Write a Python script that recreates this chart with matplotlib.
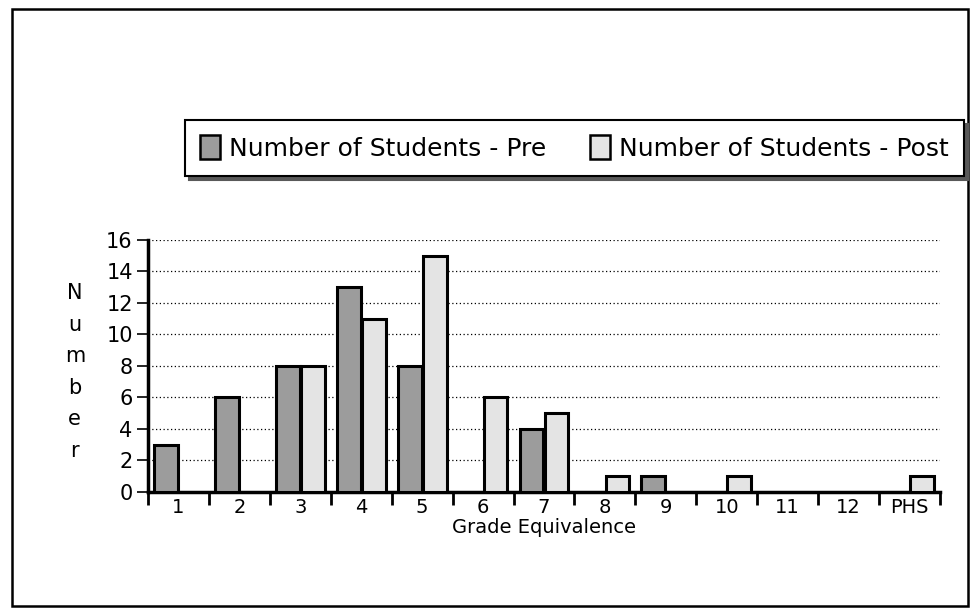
import numpy as np
from matplotlib import pyplot as plt
from matplotlib.patches import Rectangle, Patch

grades = ["1", "2", "3", "4", "5", "6", "7", "8", "9", "10", "11", "12", "PHS"]
pre = [3, 6, 8, 13, 8, 0, 4, 0, 1, 0, 0, 0, 0]
post = [0, 0, 8, 11, 15, 6, 5, 1, 0, 1, 0, 0, 1]
yticks = [0, 2, 4, 6, 8, 10, 12, 14, 16]

pre_col = "#9c9c9c"
post_col = "#e4e4e4"

plt.rcParams['font.family'] = 'DejaVu Sans'

fig = plt.figure(figsize=(9.71, 6.08), dpi=100)
ax = fig.add_axes([0.1524, 0.1908, 0.8157, 0.4145])

x = np.arange(len(grades))
w = 0.39
pre_bars = ax.bar(x - 0.205, pre, w, color=pre_col, edgecolor="black", linewidth=2.2, zorder=3)
post_bars = ax.bar(x + 0.205, post, w, color=post_col, edgecolor="black", linewidth=2.2, zorder=3)
# empty (zero) bars should not show an outline
for b, v in zip(list(pre_bars) + list(post_bars), pre + post):
    if v == 0:
        b.set_visible(False)

ax.set_xlim(-0.5, len(grades) - 0.5)
ax.set_ylim(0, 16)
ax.set_yticks(yticks)
ax.set_yticklabels([str(t) for t in yticks], fontsize=15)
ax.set_xticks(x)
ax.set_xticklabels(grades, fontsize=14)
ax.tick_params(axis='x', length=0, pad=4)
ax.set_xticks(np.arange(len(grades) + 1) - 0.5, minor=True)
ax.tick_params(axis='x', which='minor', length=9, width=2, direction='out')
ax.tick_params(axis='y', length=8, width=1.2, direction='out', pad=3)

ax.grid(axis='y', linestyle=(0, (1, 2)), color='black', linewidth=0.9, zorder=0)
for s in ['top', 'right']:
    ax.spines[s].set_visible(False)
ax.spines['left'].set_linewidth(2.5)
ax.spines['bottom'].set_linewidth(2.5)

ax.set_xlabel("Grade Equivalence", fontsize=14, labelpad=1)
fig.text(0.077, 0.5345, "N\nu\nm\nb\ne\nr", fontsize=15, ha='center', va='top', linespacing=1.72)

handles = [Patch(facecolor=pre_col, edgecolor='black', linewidth=1.8, label="Number of Students - Pre"),
           Patch(facecolor=post_col, edgecolor='black', linewidth=1.8, label="Number of Students - Post")]
leg = fig.legend(handles=handles, ncol=2, loc='center',
                 bbox_to_anchor=(0.5917, 0.7566),
                 fontsize=18, frameon=True, fancybox=False,
                 shadow={'ox': 3, 'oy': -3, 'color': '0.35', 'alpha': 1},
                 edgecolor='black', handlelength=0.8, handleheight=1.05,
                 handletextpad=0.35, borderpad=0.62, borderaxespad=0, columnspacing=1.75)
leg.get_frame().set_linewidth(1.5)

fig.patches.append(Rectangle((0.0124, 0.0033), 0.9845, 0.982, transform=fig.transFigure,
                             fill=False, edgecolor='black', linewidth=1.8))

plt.savefig('out.png', dpi=100)
